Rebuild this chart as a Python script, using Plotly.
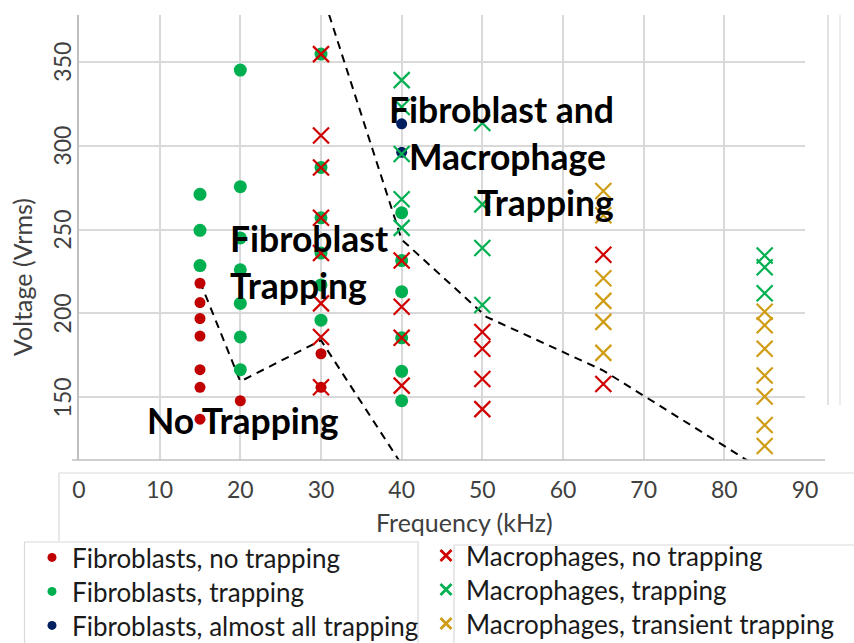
import plotly.graph_objects as go

# ---------------- data ----------------
fib_no_x = [15, 15, 15, 15, 15, 15, 15, 20, 30, 30]
fib_no_y = [218, 206.5, 197, 186.5, 166.5, 156, 137, 148, 176, 156]

fib_trap_x = [15, 15, 15, 20, 20, 20, 20, 20, 20, 20, 30, 30, 30, 30, 30, 30, 40, 40, 40, 40, 40, 40]
fib_trap_y = [271, 249.5, 228.5, 345, 275.5, 245, 226, 206, 186, 166.5,
              354.5, 287, 257, 236, 217, 196, 260, 231.5, 213, 185.5, 165.5, 148]

fib_all_x = [40, 40]
fib_all_y = [313, 296]

mac_no_x = [30, 30, 30, 30, 30, 30, 30, 30, 40, 40, 40, 40, 50, 50, 50, 50, 65, 65]
mac_no_y = [354.5, 306, 287, 257, 236, 206, 186, 156, 231.5, 204, 185.5, 157,
            189, 179, 161, 143, 235, 158]

mac_trap_x = [40, 40, 40, 40, 40, 50, 50, 50, 50, 85, 85, 85]
mac_trap_y = [339, 323, 295, 268, 251, 313.5, 265, 239, 205, 234.5, 227.5, 212]

mac_trans_x = [65, 65, 65, 65, 65, 65, 85, 85, 85, 85, 85, 85, 85]
mac_trans_y = [273, 258.5, 221, 207.5, 195, 176.5, 201, 193, 179, 163, 150.5, 133.5, 121]

bound1_x = [15, 20, 30, 40]
bound1_y = [219, 159.5, 184, 110]
bound2_x = [31, 40, 50.5, 65, 83]
bound2_y = [378, 244, 198, 166, 112]

x_ticks = [0, 10, 20, 30, 40, 50, 60, 70, 80, 90]
y_ticks = [150, 200, 250, 300, 350]

legend_labels = ["Fibroblasts, no trapping", "Fibroblasts, trapping", "Fibroblasts, almost all trapping",
                 "Macrophages, no trapping", "Macrophages, trapping", "Macrophages, transient trapping"]

# ---------------- styles ----------------
RED_DOT = "#C00000"
RED_X = "#D00000"
GREEN = "#00B050"
NAVY = "#002060"
GOLD = "#CF9C14"
FONT = "Lato"
TICK_COLOR = "#404040"

L, R, T, B = 79, 805, 15, 460
W, H = 854, 643


def px(xp):
    return (xp - L) / (R - L)


def py(yp):
    return (B - yp) / (B - T)


fig = go.Figure()

# dashed boundaries
for bx, by in [(bound1_x, bound1_y), (bound2_x, bound2_y)]:
    fig.add_trace(go.Scatter(x=bx, y=by, mode="lines", showlegend=False, hoverinfo="skip",
                             line=dict(color="black", width=2, dash="8px,6px")))

# fibroblasts (dots)
fig.add_trace(go.Scatter(x=fib_no_x, y=fib_no_y, mode="markers", showlegend=False,
                         marker=dict(symbol="circle", size=11, color=RED_DOT)))
fig.add_trace(go.Scatter(x=fib_trap_x, y=fib_trap_y, mode="markers", showlegend=False,
                         marker=dict(symbol="circle", size=13, color=GREEN)))
fig.add_trace(go.Scatter(x=fib_all_x, y=fib_all_y, mode="markers", showlegend=False,
                         marker=dict(symbol="circle", size=11, color=NAVY)))

# macrophages (crosses)
for xs, ys, c in [(mac_no_x, mac_no_y, RED_X), (mac_trap_x, mac_trap_y, GREEN),
                  (mac_trans_x, mac_trans_y, GOLD)]:
    fig.add_trace(go.Scatter(x=xs, y=ys, mode="markers", showlegend=False,
                             marker=dict(symbol="x-thin", size=16, color=c,
                                         line=dict(color=c, width=2.2))))

# legend entries: one small legend per row so rows sit where the reference has them
LEG_FONT = 26
legend_ids = ["legend", "legend2", "legend3", "legend4", "legend5", "legend6"]
row_centers = [558, 592, 626, 556, 590, 624]
col_left = [32, 32, 32, 426, 426, 426]
colors = [RED_DOT, GREEN, NAVY, RED_X, GREEN, GOLD]

for i, (name, c, lid) in enumerate(zip(legend_labels, colors, legend_ids)):
    if i < 3:
        mk = dict(symbol="circle", size=9, color=c)
    else:
        mk = dict(symbol="x-thin", size=11, color=c, line=dict(color=c, width=2.8))
    fig.add_trace(go.Scatter(x=[None], y=[None], mode="markers", name=name, legend=lid, marker=mk))

legend_layout = {}
for lid, yc, xl in zip(legend_ids, row_centers, col_left):
    legend_layout[lid] = dict(x=px(xl), y=py(yc - 24), xanchor="left", yanchor="top",
                              bgcolor="rgba(0,0,0,0)", borderwidth=0, itemsizing="trace",
                              font=dict(family=FONT, size=LEG_FONT, color="#1a1a1a"))

GRID = "#D9D9D9"
AX = "#BFBFBF"

shapes = [
    dict(type="line", xref="paper", yref="paper", x0=px(72), x1=px(825), y0=0, y1=0,
         line=dict(color=AX, width=1.5)),
    dict(type="line", xref="paper", yref="paper", x0=px(59), x1=px(860), y0=py(473), y1=py(473),
         line=dict(color=GRID, width=1.2)),
    dict(type="line", xref="paper", yref="paper", x0=px(59), x1=px(59), y0=py(473), y1=py(541),
         line=dict(color=GRID, width=1.2)),
    dict(type="rect", xref="paper", yref="paper", x0=px(24.5), x1=px(418), y0=py(542), y1=py(660),
         line=dict(color=GRID, width=1.2)),
    dict(type="rect", xref="paper", yref="paper", x0=px(454), x1=px(870), y0=py(545), y1=py(660),
         line=dict(color=GRID, width=1.2)),
    dict(type="line", xref="paper", yref="paper", x0=px(828), x1=px(828), y0=1, y1=py(405),
         line=dict(color=GRID, width=1.5)),
    dict(type="line", xref="paper", yref="paper", x0=px(840), x1=px(840), y0=1, y1=py(405),
         line=dict(color="#E6E6E6", width=1.5)),
]

bold = dict(family=FONT, size=35.5, color="black", weight="bold")
annotations = [
    dict(x=8.2, y=136.5, text="No Trapping", xanchor="left", yanchor="middle"),
    dict(x=18.5, y=244.5, text="Fibroblast", xanchor="left", yanchor="middle"),
    dict(x=18.5, y=216.5, text="Trapping", xanchor="left", yanchor="middle"),
    dict(x=66.6, y=321.3, text="Fibroblast and", xanchor="right", yanchor="middle"),
    dict(x=65.6, y=293.3, text="Macrophage", xanchor="right", yanchor="middle"),
    dict(x=66.6, y=266, text="Trapping", xanchor="right", yanchor="middle"),
]
for a in annotations:
    a.update(xref="x", yref="y", showarrow=False, font=bold)

# vertical (rotated) y tick labels, one per tick value
for v in y_ticks:
    annotations.append(dict(xref="paper", yref="y", x=px(62), y=v, text=str(v), showarrow=False,
                            textangle=-90, xanchor="center", yanchor="middle",
                            font=dict(family=FONT, size=23, color=TICK_COLOR)))

annotations += [
    dict(xref="paper", yref="paper", x=px(464), y=py(522), text="Frequency (kHz)", showarrow=False,
         xanchor="center", yanchor="middle", font=dict(family=FONT, size=25, color=TICK_COLOR)),
    dict(xref="paper", yref="paper", x=px(22), y=py(277), text="Voltage (Vrms)", showarrow=False,
         textangle=-90, xanchor="center", yanchor="middle",
         font=dict(family=FONT, size=25, color=TICK_COLOR)),
]

fig.update_layout(
    width=W, height=H, autosize=False,
    margin=dict(l=L, r=W - R, t=T, b=H - B, autoexpand=False),
    paper_bgcolor="white", plot_bgcolor="white",
    font=dict(family=FONT),
    shapes=shapes, annotations=annotations,
    xaxis=dict(range=[0, 90], tickvals=x_ticks, showgrid=True, gridcolor=GRID, gridwidth=1.5,
               zeroline=False, showline=False, ticks="", ticklabelstandoff=14, automargin=False,
               tickfont=dict(family=FONT, size=23, color=TICK_COLOR)),
    yaxis=dict(range=[112.7, 377.8], tickvals=y_ticks, showgrid=True, gridcolor=GRID, gridwidth=1.5,
               zeroline=False, showline=True, linecolor=AX, linewidth=1.5, ticks="",
               showticklabels=False, automargin=False),
    **legend_layout,
)

fig.write_html("out.html")
